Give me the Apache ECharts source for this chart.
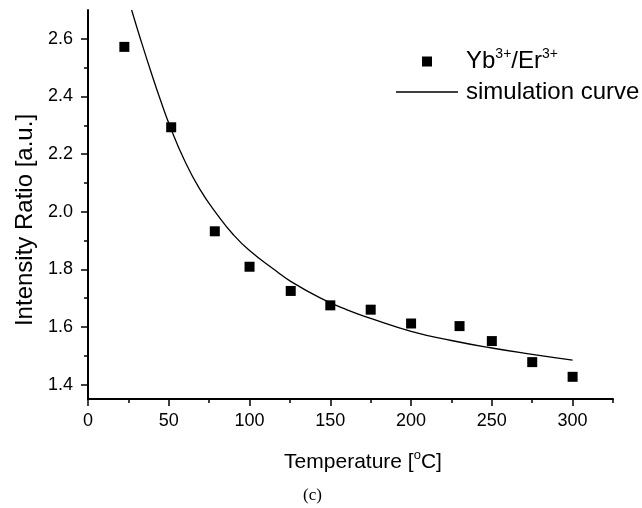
<!DOCTYPE html>
<html>
<head>
<meta charset="utf-8">
<script src="https://cdn.jsdelivr.net/npm/echarts@6/dist/echarts.min.js"></script>
<style>
  html, body { margin: 0; padding: 0; background: #fff; }
  #chart { width: 642px; height: 508px; }
</style>
</head>
<body>
<div id="chart"></div>
<script>
// measured points (Yb3+/Er3+)
const temps = [22.5, 51.5, 78.5, 100, 125.5, 150, 175, 200, 230, 250, 275, 300]
const ratios = [2.572, 2.293, 1.932, 1.809, 1.725, 1.675, 1.660, 1.612, 1.603, 1.551, 1.478, 1.427]

// simulation curve
const curveT = [27, 33, 39, 45, 51, 60, 69, 80, 90, 100, 115, 125, 144, 160, 175, 200, 225, 250, 275, 300]
const curveY = [2.70, 2.59, 2.485, 2.385, 2.293, 2.175, 2.08, 1.99, 1.92, 1.865, 1.80, 1.76, 1.70, 1.66, 1.630, 1.585, 1.553, 1.527, 1.505, 1.485]

// tick values
const xTicks = [0, 50, 100, 150, 200, 250, 300]
const xMinor = [25, 75, 125, 175, 225, 275, 325]
const yTicks = [1.4, 1.6, 1.8, 2.0, 2.2, 2.4, 2.6]
const yMinor = [1.5, 1.7, 1.9, 2.1, 2.3, 2.5]

const font = 'Liberation Sans, Arial, sans-serif'
const black = '#000'

const myChart = echarts.init(document.getElementById('chart'), null, { renderer: 'canvas' })

const sup = { fontSize: 14, fontFamily: font, color: black, verticalAlign: 'top', lineHeight: 14 }

const option = {
  animation: false,
  backgroundColor: '#fff',
  grid: { left: 88, right: 29, top: 10, bottom: 109, containLabel: false },
  legend: [
    {
      data: ['Yb'],
      left: 422,
      top: 47,
      padding: 0,
      itemWidth: 10,
      itemHeight: 10,
      formatter: () => '{n|Yb}{s|3+}{n|/Er}{s|3+}',
      textStyle: {
        padding: [0, 0, 0, 29],
        rich: {
          n: { fontSize: 24, fontFamily: font, color: black, lineHeight: 29 },
          s: sup
        }
      }
    },
    {
      data: [{ name: 'sim', icon: 'rect' }],
      left: 396,
      top: 80,
      padding: 0,
      itemWidth: 62,
      itemHeight: 1.4,
      itemStyle: { color: black },
      formatter: () => 'simulation curve',
      textStyle: { fontSize: 24, fontFamily: font, color: black, padding: [0, 0, 0, 3] }
    }
  ],
  xAxis: {
    type: 'value',
    min: 0,
    max: 325,
    name: '{n|Temperature [}{s|o}{n|C]}',
    nameLocation: 'middle',
    nameGap: 50,
    nameTextStyle: {
      padding: [0, 0, 0, 25],
      rich: {
        n: { fontSize: 21, fontFamily: font, color: black, lineHeight: 26 },
        s: { fontSize: 13, fontFamily: font, color: black, verticalAlign: 'top', lineHeight: 13 }
      }
    },
    axisLine: { lineStyle: { color: black, width: 2 } },
    axisTick: { customValues: xTicks, length: 7, lineStyle: { color: black, width: 1.5 } },
    minorTick: { show: false },
    axisLabel: {
      customValues: xTicks,
      margin: 13,
      fontSize: 18,
      fontFamily: font,
      color: black
    },
    splitLine: { show: false }
  },
  yAxis: [
    {
      type: 'value',
      min: 1.35,
      max: 2.7,
      position: 'left',
      name: 'Intensity Ratio [a.u.]',
      nameLocation: 'middle',
      nameGap: 50,
      nameTextStyle: { fontSize: 24, fontFamily: font, color: black, padding: [0, 31, 0, 0] },
      axisLine: { show: true, lineStyle: { color: black, width: 2 } },
      axisTick: { customValues: yTicks, length: 7, lineStyle: { color: black, width: 1.5 } },
      axisLabel: {
        customValues: yTicks,
        margin: 15,
        fontSize: 18,
        fontFamily: font,
        color: black,
        formatter: v => v.toFixed(1)
      },
      splitLine: { show: false }
    },
    {
      // 次刻度
      type: 'value',
      min: 1.35,
      max: 2.7,
      position: 'left',
      offset: 0,
      axisLine: { show: false },
      axisTick: { customValues: yMinor, length: 4, lineStyle: { color: black, width: 1.5 } },
      axisLabel: { show: false },
      splitLine: { show: false }
    }
  ],
  graphic: [
    {
      type: 'text',
      left: 303,
      top: 487,
      style: { text: '(c)', fontSize: 17, fontFamily: 'Liberation Serif, Times New Roman, serif', fill: black }
    }
  ],
  series: [
    {
      name: 'Yb',
      type: 'scatter',
      symbol: 'rect',
      symbolSize: 10,
      itemStyle: { color: black, opacity: 1 },
      data: temps.map((t, i) => [t, ratios[i]])
    },
    {
      name: 'sim',
      type: 'line',
      smooth: 0.5,
      symbol: 'none',
      showSymbol: false,
      lineStyle: { color: black, width: 1.3 },
      itemStyle: { color: black },
      data: curveT.map((t, i) => [t, curveY[i]])
    }
  ]
}

myChart.setOption(option)

// x 轴次刻度，单独一根轴叠上去
myChart.setOption({
  xAxis: [
    option.xAxis,
    {
      type: 'value',
      min: 0,
      max: 325,
      position: 'bottom',
      offset: 0,
      axisLine: { show: false },
      axisTick: { customValues: xMinor, length: 4, lineStyle: { color: black, width: 1.5 } },
      axisLabel: { show: false },
      splitLine: { show: false }
    }
  ]
})

window.addEventListener('resize', () => {
  myChart.resize()
})
</script>
</body>
</html>
